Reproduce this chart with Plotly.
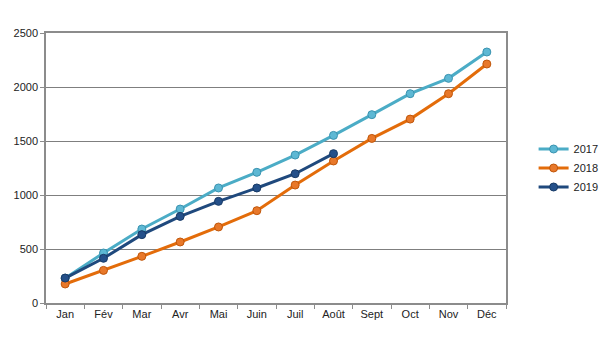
import plotly.graph_objects as go

months = ["Jan", "Fév", "Mar", "Avr", "Mai", "Juin", "Juil", "Août", "Sept", "Oct", "Nov", "Déc"]
y2017 = [230, 463, 685, 870, 1065, 1210, 1370, 1552, 1744, 1938, 2080, 2324]
y2018 = [176, 302, 432, 565, 704, 855, 1092, 1315, 1524, 1703, 1938, 2213]
y2019 = [231, 414, 633, 802, 941, 1065, 1197, 1383]
y_ticks = [0, 500, 1000, 1500, 2000, 2500]

FONT = "Liberation Sans Narrow, Arial Narrow, Arial, sans-serif"

series = [
    ("2017", y2017, "#4BACC6", "#5DB8D4", "#3A93B0"),
    ("2018", y2018, "#E36C0A", "#E8782A", "#C0560A"),
    ("2019", y2019, "#1F497D", "#24508A", "#183A66"),
]

fig = go.Figure()
for name, vals, line_c, fill_c, edge_c in series:
    fig.add_trace(go.Scatter(
        x=months[:len(vals)], y=vals, name=name,
        mode="lines+markers",
        line=dict(color=line_c, width=3),
        marker=dict(size=8, color=fill_c, line=dict(color=edge_c, width=1)),
    ))

fig.update_layout(
    width=600, height=350,
    margin=dict(l=46, r=94, t=33, b=47, autoexpand=False),
    paper_bgcolor="white", plot_bgcolor="white",
    font=dict(family=FONT, size=11, color="#222222"),
    showlegend=True,
    legend=dict(
        x=1.06, xanchor="left", y=0.5, yanchor="middle",
        font=dict(family=FONT, size=11, color="#222222"),
        itemwidth=30, tracegroupgap=8,
        bgcolor="rgba(0,0,0,0)",
    ),
)

fig.update_xaxes(
    type="category", categoryorder="array", categoryarray=months,
    range=[-0.5, 11.5],
    showline=True, linecolor="#8C8C8C", linewidth=1.5, mirror=True,
    ticks="outside", ticklen=4, tickcolor="#8C8C8C", tickson="boundaries",
    showgrid=False,
    tickfont=dict(family=FONT, size=11, color="#222222"),
)
fig.update_yaxes(
    range=[0, 2500], tickvals=y_ticks,
    showline=True, linecolor="#8C8C8C", linewidth=1.5, mirror=True,
    ticks="outside", ticklen=4, tickcolor="#8C8C8C",
    showgrid=True, gridcolor="#7F7F7F", gridwidth=1,
    zeroline=False,
    tickfont=dict(family=FONT, size=11, color="#222222"),
)

fig.write_html("out.html")
